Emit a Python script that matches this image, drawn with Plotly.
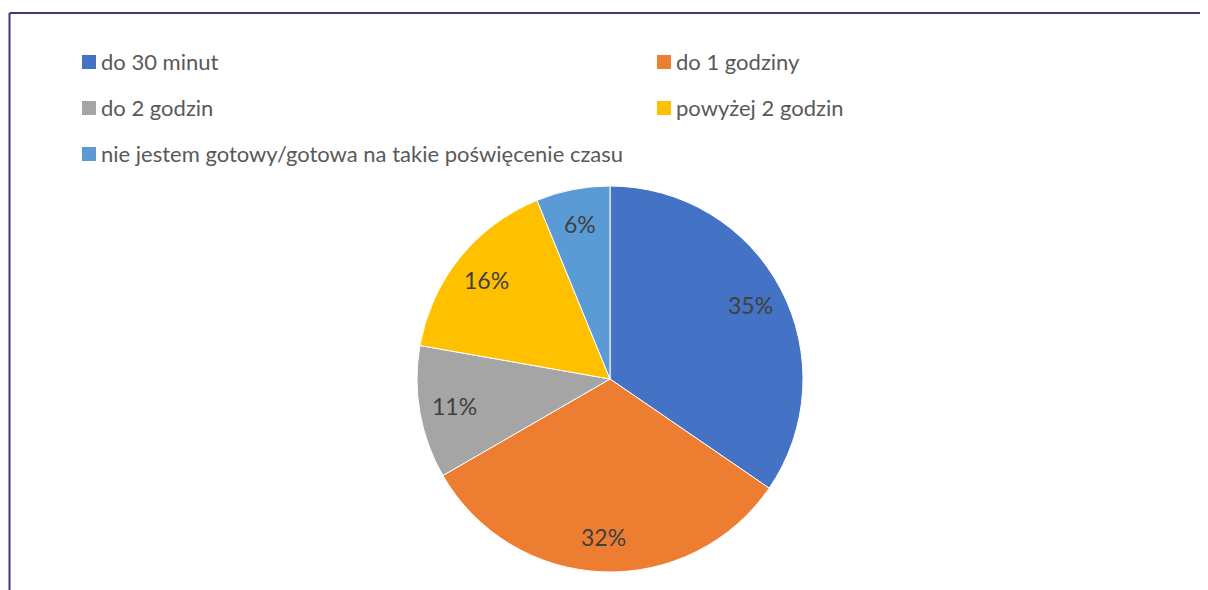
import numpy as np
import plotly.graph_objects as go

categories = ["do 30 minut", "do 1 godziny", "do 2 godzin", "powyżej 2 godzin",
              "nie jestem gotowy/gotowa na takie poświęcenie czasu"]
counts = [28, 26, 9, 13, 5]
colors = ["#4472C4", "#ED7D31", "#A5A5A5", "#FFC000", "#5B9BD5"]

W, H = 1208, 590
OFF = 8  # page body margin
FONT = "Lato"

# pie geometry in page pixels
PCX, PCY, PR = 610, 379, 193


def px(x):
    return (x - OFF) / W


def py(y):
    return (H - (y - OFF)) / H


fig = go.Figure()
fig.add_trace(go.Pie(
    labels=categories,
    values=counts,
    sort=False,
    direction="clockwise",
    rotation=0,
    marker=dict(colors=colors, line=dict(color="white", width=1)),
    textinfo="none",
    domain=dict(x=[px(PCX - PR), px(PCX + PR)], y=[py(PCY + PR), py(PCY - PR)]),
    showlegend=False,
    hoverinfo="label+percent",
))

annotations = []
shapes = []

# data labels at the slice bisectors (Excel "best fit" style)
vals = np.array(counts, dtype=float)
frac = vals / vals.sum()
mid = (np.cumsum(frac) - frac / 2) * 2 * np.pi
for f, a in zip(frac, mid):
    lx = PCX + 0.82 * PR * np.sin(a)
    ly = PCY - 0.82 * PR * np.cos(a)
    annotations.append(dict(text=f"{round(f * 100):.0f}%", xref="paper", yref="paper",
                            x=px(lx), y=py(ly), xanchor="center", yanchor="middle",
                            showarrow=False,
                            font=dict(family=FONT, size=23, color="#404040")))

# legend (two columns, three rows)
col_x = [82, 657]
row_y = [62, 108, 154]
for i, (name, col) in enumerate(zip(categories, colors)):
    cx = col_x[i % 2]
    cy = row_y[i // 2]
    shapes.append(dict(type="rect", xref="paper", yref="paper",
                       x0=px(cx), x1=px(cx + 14),
                       y0=py(cy + 7), y1=py(cy - 7),
                       fillcolor=col, line=dict(width=0)))
    annotations.append(dict(text=name, xref="paper", yref="paper",
                            x=px(cx + 17), y=py(cy - 1),
                            xanchor="left", yanchor="middle", showarrow=False,
                            font=dict(family=FONT, size=22, color="#595959")))

# frame lines (left and top)
frame = "#3E3A78"
shapes.append(dict(type="line", xref="paper", yref="paper",
                   x0=px(9.5), x1=px(9.5), y0=0, y1=py(13),
                   line=dict(color=frame, width=2)))
shapes.append(dict(type="line", xref="paper", yref="paper",
                   x0=px(9.5), x1=1, y0=py(13), y1=py(13),
                   line=dict(color=frame, width=2)))

fig.update_layout(
    width=W, height=H,
    margin=dict(l=0, r=0, t=0, b=0),
    paper_bgcolor="white",
    plot_bgcolor="white",
    shapes=shapes,
    annotations=annotations,
    font=dict(family=FONT),
)

fig.write_html("out.html")
